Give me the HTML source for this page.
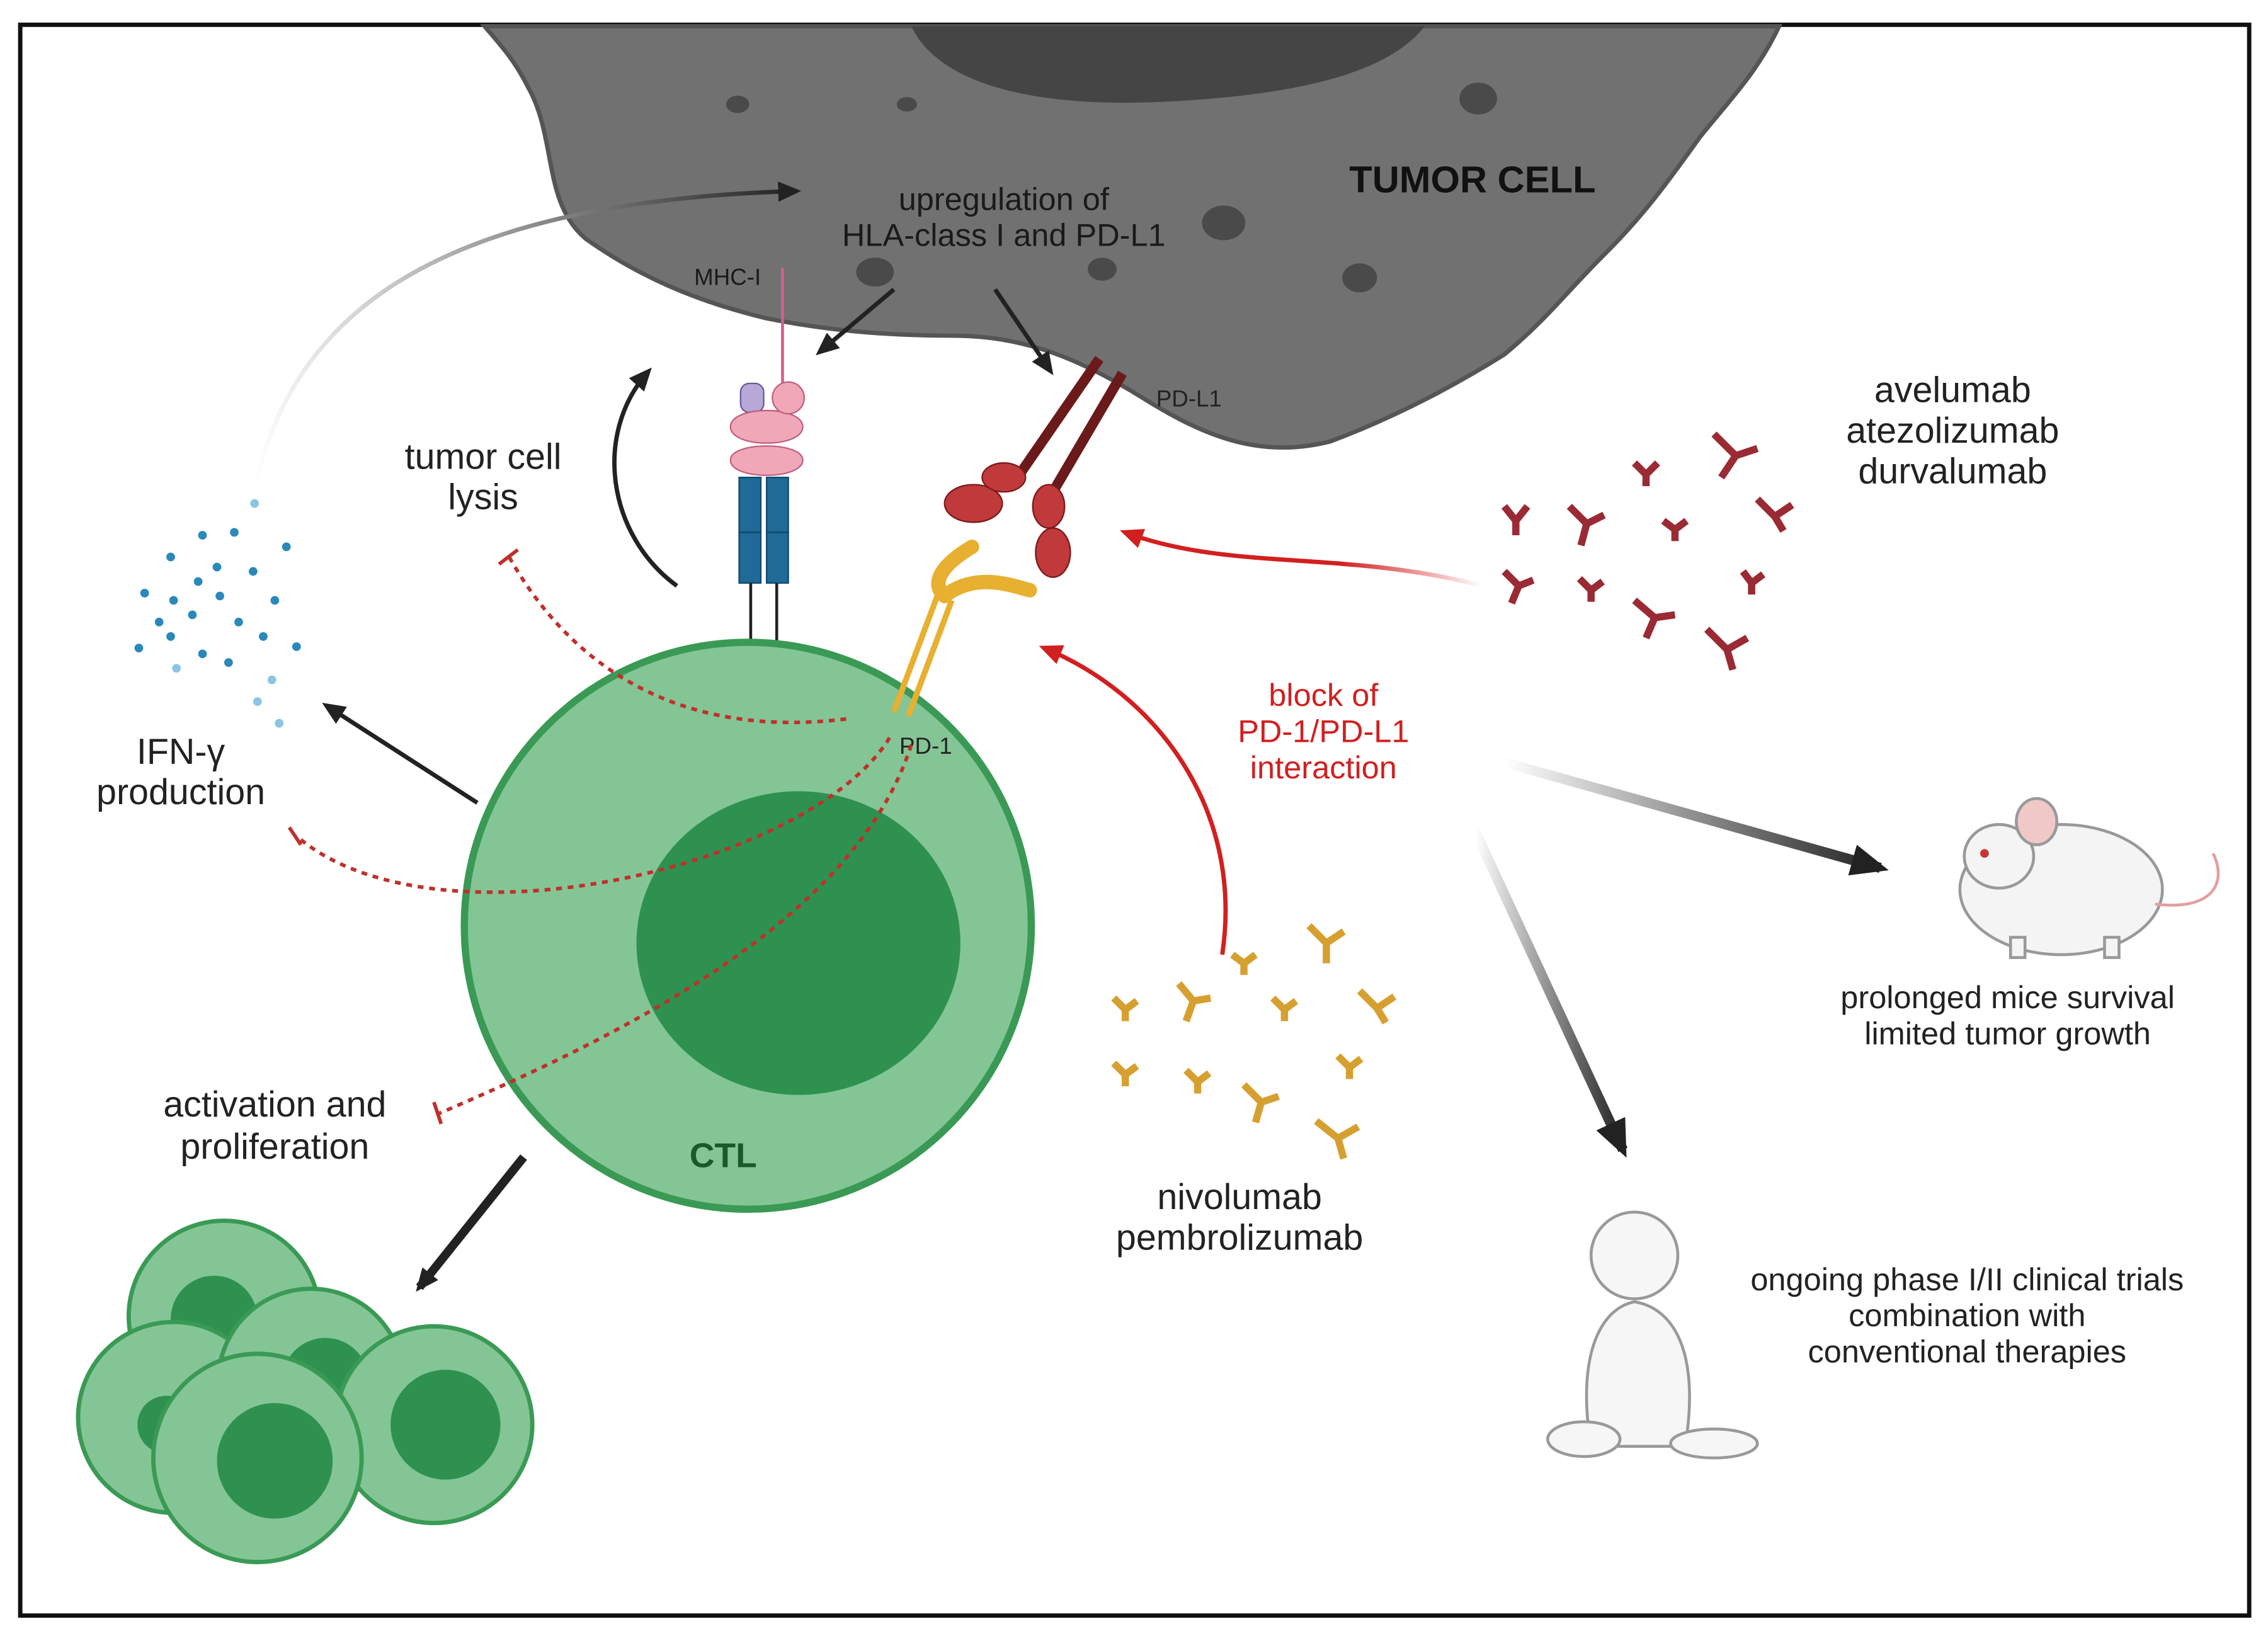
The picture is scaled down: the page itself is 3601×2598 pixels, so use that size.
<!DOCTYPE html>
<html><head><meta charset="utf-8"><style>
html,body{margin:0;padding:0;background:#fff;}
svg{display:block;}
text{font-family:"Liberation Sans",sans-serif;}
</style></head><body>
<svg width="3601" height="2598" viewBox="0 0 1568 1131" xmlns="http://www.w3.org/2000/svg">
<defs>
<marker id="ab2" markerWidth="26" markerHeight="22" refX="20" refY="11" orient="auto" markerUnits="userSpaceOnUse"><path d="M0,0 L26,11 L0,22 z" fill="#222"/></marker>
<marker id="ar" markerWidth="16" markerHeight="14" refX="12" refY="7" orient="auto" markerUnits="userSpaceOnUse"><path d="M0,0 L16,7 L0,14 z" fill="#d21f1f"/></marker>
<marker id="ak" markerWidth="16" markerHeight="14" refX="12" refY="7" orient="auto" markerUnits="userSpaceOnUse"><path d="M0,0 L16,7 L0,14 z" fill="#222"/></marker>
<linearGradient id="gfade" x1="0" y1="0" x2="1" y2="0"><stop offset="0" stop-color="#fff"/><stop offset="1" stop-color="#222"/></linearGradient>
<linearGradient id="rfade" x1="1" y1="0" x2="0" y2="0"><stop offset="0" stop-color="#fff"/><stop offset="0.4" stop-color="#d21f1f"/></linearGradient>
</defs>
<rect x="0" y="0" width="1568" height="1131" fill="#fff"/>
<rect x="14" y="17" width="1541" height="1100" fill="none" stroke="#111" stroke-width="3"/>
<!-- tumor cell -->
<path d="M335,18 L1230,18 C1215,50 1195,70 1175,95 C1150,130 1135,150 1110,175 C1080,205 1070,220 1040,245 C1000,270 960,290 920,305 C870,318 830,300 790,275 C750,250 710,232 660,232 C610,232 570,228 530,220 C480,208 440,190 405,165 C375,140 385,95 365,60 C355,40 345,30 335,18 Z" fill="#717171" stroke="#555" stroke-width="3"/>
<path d="M630,18 C650,60 720,75 810,70 C900,65 960,50 985,18 Z" fill="#454545"/>
<g fill="#4a4a4a">
<ellipse cx="510" cy="72" rx="8" ry="6"/><ellipse cx="627" cy="72" rx="7" ry="5"/><ellipse cx="1022" cy="68" rx="13" ry="11"/>
<ellipse cx="846" cy="154" rx="15" ry="12"/><ellipse cx="605" cy="188" rx="13" ry="10"/><ellipse cx="762" cy="186" rx="10" ry="8"/><ellipse cx="940" cy="192" rx="12" ry="10"/>
</g>
<text x="1018" y="133" font-size="26" font-weight="bold" fill="#111" text-anchor="middle">TUMOR CELL</text>
<text x="694" y="145" font-size="22" fill="#1a1a1a" text-anchor="middle">upregulation of</text>
<text x="694" y="170" font-size="22" fill="#1a1a1a" text-anchor="middle">HLA-class I and PD-L1</text>
<text x="503" y="197" font-size="16" fill="#1a1a1a" text-anchor="middle">MHC-I</text>
<text x="822" y="281" font-size="16" fill="#222" text-anchor="middle">PD-L1</text>
<line x1="618" y1="200" x2="567" y2="243" stroke="#222" stroke-width="3" marker-end="url(#ak)"/>
<line x1="688" y1="200" x2="726" y2="256" stroke="#222" stroke-width="3" marker-end="url(#ak)"/>
<!-- IFN arc -->
<path d="M175,340 C200,230 280,140 550,132" fill="none" stroke="url(#gfade)" stroke-width="3" marker-end="url(#ak)"/>
<!-- MHC / TCR -->
<line x1="541" y1="185" x2="541" y2="265" stroke="#d06090" stroke-width="2"/>
<rect x="512" y="265" width="16" height="20" rx="6" fill="#b8a8d8" stroke="#6a5a9a"/>
<path d="M505,295 C505,280 555,280 555,295 C555,310 505,310 505,295 Z M505,318 C505,305 555,305 555,318 C555,332 505,332 505,318Z" fill="#f0a8b8" stroke="#c06080"/>
<circle cx="545" cy="275" r="11" fill="#f0a8b8" stroke="#c06080"/>
<rect x="511" y="330" width="15" height="38" fill="#1f6a96" stroke="#0f4a70"/>
<rect x="530" y="330" width="15" height="38" fill="#1f6a96" stroke="#0f4a70"/>
<rect x="511" y="368" width="15" height="35" fill="#1f6a96" stroke="#0f4a70"/>
<rect x="530" y="368" width="15" height="35" fill="#1f6a96" stroke="#0f4a70"/>
<line x1="519" y1="403" x2="519" y2="465" stroke="#222" stroke-width="2"/>
<line x1="537" y1="403" x2="537" y2="465" stroke="#222" stroke-width="2"/>
<text x="483" y="474" font-size="16" fill="#222" text-anchor="middle">TCR</text>
<!-- PD-L1 -->
<line x1="760" y1="248" x2="700" y2="335" stroke="#6a1a1a" stroke-width="7"/>
<line x1="776" y1="258" x2="725" y2="345" stroke="#6a1a1a" stroke-width="7"/>
<ellipse cx="673" cy="348" rx="20" ry="13" fill="#c0393b" stroke="#7a1a1a"/>
<ellipse cx="694" cy="330" rx="15" ry="10" fill="#c0393b" stroke="#7a1a1a"/>
<ellipse cx="725" cy="350" rx="11" ry="15" fill="#c0393b" stroke="#7a1a1a"/>
<ellipse cx="728" cy="382" rx="12" ry="17" fill="#c0393b" stroke="#7a1a1a"/>
<!-- CTL -->
<circle cx="517" cy="640" r="196" fill="#84c596" stroke="#3a9a55" stroke-width="5"/>
<ellipse cx="552" cy="652" rx="112" ry="105" fill="#2e9150"/>
<text x="500" y="807" font-size="24" font-weight="bold" fill="#1a5a2a" text-anchor="middle">CTL</text>
<!-- PD-1 -->
<line x1="618" y1="492" x2="648" y2="412" stroke="#e8b030" stroke-width="4"/>
<line x1="628" y1="495" x2="658" y2="415" stroke="#e8b030" stroke-width="4"/>
<path d="M653,412 C640,400 660,385 672,378" stroke="#e8b030" stroke-width="10" fill="none" stroke-linecap="round"/>
<path d="M653,412 C675,395 700,405 712,408" stroke="#e8b030" stroke-width="10" fill="none" stroke-linecap="round"/>
<text x="640" y="521" font-size="16" fill="#222" text-anchor="middle">PD-1</text>
<!-- lysis arrow -->
<path d="M468,405 C420,370 410,300 448,257" fill="none" stroke="#222" stroke-width="3" marker-end="url(#ak)"/>
<text x="334" y="324" font-size="25" fill="#222" text-anchor="middle">tumor cell</text>
<text x="334" y="352" font-size="25" fill="#222" text-anchor="middle">lysis</text>
<!-- dotted inhibitions -->
<g stroke="#c0302a" stroke-width="2.5" fill="none" stroke-dasharray="4,4">
<path d="M585,497 C480,510 400,470 352,385"/>
<path d="M615,510 C560,600 300,660 205,578"/>
<path d="M630,515 C590,640 420,720 303,770"/>
</g>
<g stroke="#c0302a" stroke-width="2.5">
<line x1="345" y1="390" x2="358" y2="380"/>
<line x1="200" y1="572" x2="208" y2="584"/>
<line x1="300" y1="762" x2="305" y2="777"/>
</g>
<!-- IFN -->
<line x1="330" y1="555" x2="226" y2="488" stroke="#222" stroke-width="3" marker-end="url(#ak)"/>
<g fill="#2a88bb">
<circle cx="140" cy="370" r="3"/><circle cx="162" cy="368" r="3"/><circle cx="176" cy="348" r="3" fill="#8cc4e4"/><circle cx="198" cy="378" r="3"/>
<circle cx="118" cy="385" r="3"/><circle cx="137" cy="402" r="3"/><circle cx="150" cy="392" r="3"/><circle cx="175" cy="395" r="3"/>
<circle cx="100" cy="410" r="3"/><circle cx="120" cy="415" r="3"/><circle cx="152" cy="412" r="3"/><circle cx="190" cy="415" r="3"/>
<circle cx="110" cy="430" r="3"/><circle cx="133" cy="425" r="3"/><circle cx="165" cy="430" r="3"/><circle cx="182" cy="440" r="3"/>
<circle cx="96" cy="448" r="3"/><circle cx="118" cy="440" r="3"/><circle cx="140" cy="452" r="3"/><circle cx="158" cy="458" r="3"/><circle cx="205" cy="447" r="3"/>
<circle cx="122" cy="462" r="3" fill="#8cc4e4"/><circle cx="188" cy="470" r="3" fill="#8cc4e4"/><circle cx="178" cy="485" r="3" fill="#8cc4e4"/><circle cx="193" cy="500" r="3" fill="#8cc4e4"/>
</g>
<text x="125" y="528" font-size="25" fill="#222" text-anchor="middle">IFN-γ</text>
<text x="125" y="556" font-size="25" fill="#222" text-anchor="middle">production</text>
<text x="190" y="772" font-size="25" fill="#222" text-anchor="middle">activation and</text>
<text x="190" y="801" font-size="25" fill="#222" text-anchor="middle">proliferation</text>
<!-- proliferation arrow -->
<line x1="362" y1="800" x2="290" y2="890" stroke="#222" stroke-width="6" marker-end="url(#ak)"/>
<!-- cluster -->
<g stroke="#3a9a55" stroke-width="3">
<circle cx="155" cy="910" r="66" fill="#84c596"/><circle cx="148" cy="912" r="30" fill="#2e9150" stroke="none"/>
<circle cx="120" cy="980" r="66" fill="#84c596"/><circle cx="115" cy="985" r="20" fill="#2e9150" stroke="none"/>
<circle cx="215" cy="955" r="64" fill="#84c596"/><circle cx="225" cy="955" r="30" fill="#2e9150" stroke="none"/>
<circle cx="300" cy="985" r="68" fill="#84c596"/><circle cx="308" cy="985" r="38" fill="#2e9150" stroke="none"/>
<circle cx="178" cy="1008" r="72" fill="#84c596"/><circle cx="190" cy="1010" r="40" fill="#2e9150" stroke="none"/>
</g>
<!-- red arrows -->
<path d="M1025,405 C930,380 850,395 778,368" fill="none" stroke="url(#rfade)" stroke-width="3" marker-end="url(#ar)"/>
<path d="M845,660 C860,560 800,480 722,448" fill="none" stroke="#d21f1f" stroke-width="3" marker-end="url(#ar)"/>
<text x="915" y="488" font-size="22" fill="#d21f1f" text-anchor="middle">block of</text>
<text x="915" y="513" font-size="22" fill="#d21f1f" text-anchor="middle">PD-1/PD-L1</text>
<text x="915" y="538" font-size="22" fill="#d21f1f" text-anchor="middle">interaction</text>
<!-- antibodies red -->
<g stroke="#9a2a33" stroke-width="5" fill="none">
<path d="M1040,350 l8,10 l8,-10 M1048,360 v10"/><path d="M1085,350 l12,12 l-4,15 M1097,362 l12,-6"/>
<path d="M1130,320 l8,8 l8,-8 M1138,328 v8"/><path d="M1185,300 l15,15 l-10,15 M1200,315 l15,-5"/>
<path d="M1215,345 l12,12 l12,-8 M1227,357 l6,10"/><path d="M1150,360 l8,6 l8,-6 M1158,366 v8"/>
<path d="M1040,395 l10,10 l-5,12 M1050,405 l10,-4"/><path d="M1092,400 l8,8 l8,-6 M1100,408 v8"/>
<path d="M1130,415 l14,12 l-6,14 M1144,427 l14,-2"/><path d="M1180,435 l14,14 l14,-8 M1194,449 l4,14"/>
<path d="M1205,395 l6,8 l8,-6 M1211,403 v8"/>
</g>
<text x="1350" y="278" font-size="25" fill="#222" text-anchor="middle">avelumab</text>
<text x="1350" y="306" font-size="25" fill="#222" text-anchor="middle">atezolizumab</text>
<text x="1350" y="334" font-size="25" fill="#222" text-anchor="middle">durvalumab</text>
<!-- yellow antibodies -->
<g stroke="#d6a030" stroke-width="5" fill="none">
<path d="M852,660 l8,6 l8,-6 M860,666 v8"/><path d="M905,640 l12,12 l12,-8 M917,652 v14"/>
<path d="M770,690 l8,8 l8,-6 M778,698 v8"/><path d="M815,680 l10,12 l-5,14 M825,692 l12,-2"/>
<path d="M880,690 l8,8 l8,-6 M888,698 v8"/><path d="M940,685 l12,12 l12,-8 M952,697 l6,10"/>
<path d="M770,735 l8,8 l8,-6 M778,743 v8"/><path d="M820,740 l8,8 l8,-6 M828,748 v8"/>
<path d="M860,750 l12,12 l-4,14 M872,762 l12,-4"/><path d="M925,730 l8,8 l8,-6 M933,738 v8"/>
<path d="M910,775 l15,12 l14,-8 M925,787 l4,14"/>
</g>
<text x="857" y="836" font-size="25" fill="#222" text-anchor="middle">nivolumab</text>
<text x="857" y="864" font-size="25" fill="#222" text-anchor="middle">pembrolizumab</text>
<!-- big arrows -->
<line x1="1040" y1="527" x2="1300" y2="600" stroke="url(#gfade)" stroke-width="7" marker-end="url(#ab2)"/>
<line x1="1020" y1="575" x2="1122" y2="795" stroke="url(#gfade)" stroke-width="7" marker-end="url(#ab2)"/>
<!-- mouse -->
<g stroke="#999" stroke-width="2" fill="#f4f4f4">
<ellipse cx="1425" cy="615" rx="70" ry="45"/>
<ellipse cx="1382" cy="592" rx="24" ry="22"/>
<ellipse cx="1408" cy="568" rx="14" ry="16" fill="#f0c8c8"/>
<path d="M1490,625 C1530,630 1540,610 1530,590" fill="none" stroke="#e0a0a0"/>
<rect x="1390" y="648" width="10" height="14"/><rect x="1455" y="648" width="10" height="14"/>
</g>
<circle cx="1372" cy="590" r="3" fill="#c33"/>
<text x="1388" y="697" font-size="22" fill="#222" text-anchor="middle">prolonged mice survival</text>
<text x="1388" y="722" font-size="22" fill="#222" text-anchor="middle">limited tumor growth</text>
<!-- baby -->
<g stroke="#999" stroke-width="2" fill="#f6f6f6">
<path d="M1100,1000 C1090,940 1105,905 1130,900 C1160,905 1175,940 1165,1000 Z"/>
<circle cx="1130" cy="868" r="30"/>
<ellipse cx="1095" cy="995" rx="25" ry="12"/><ellipse cx="1185" cy="998" rx="30" ry="10"/>
</g>
<text x="1360" y="892" font-size="22" fill="#222" text-anchor="middle">ongoing phase I/II clinical trials</text>
<text x="1360" y="917" font-size="22" fill="#222" text-anchor="middle">combination with</text>
<text x="1360" y="942" font-size="22" fill="#222" text-anchor="middle">conventional therapies</text>
</svg>
</body></html>
